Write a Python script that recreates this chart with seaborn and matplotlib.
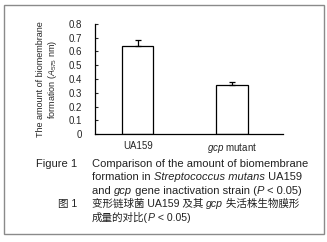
"""Biomembrane formation bar chart (UA159 vs gcp mutant)."""

import matplotlib
matplotlib.use("Agg")
import matplotlib.pyplot as plt
from matplotlib.patches import Rectangle
import pandas as pd
import seaborn as sns

# Data
strains = ["UA159", "gcp mutant"]
amount = [0.64, 0.36]
amount_err = [0.04, 0.02]
yticks = [0, 0.1, 0.2, 0.3, 0.4, 0.5, 0.6, 0.7, 0.8]
ytick_labels = ["0", "0.1", "0.2", "0.3", "0.4", "0.5", "0.6", "0.7", "0.8"]

sns.set_style("white")
plt.rcParams["font.family"] = ["Liberation Sans", "Noto Sans CJK SC", "DejaVu Sans"]
plt.rcParams["mathtext.fontset"] = "custom"
plt.rcParams["mathtext.rm"] = "Liberation Sans"
plt.rcParams["mathtext.it"] = "Liberation Sans:italic"

df = pd.DataFrame({"strain": strains, "amount": amount})

fig = plt.figure(figsize=(3.27, 2.42), dpi=100)
ax = fig.add_axes([0.29, 0.446, 0.575, 0.455])

sns.barplot(data=df, x="strain", y="amount", color="white", edgecolor="black",
            linewidth=0.9, width=0.33, ax=ax)
ax.errorbar(range(len(strains)), amount, yerr=[[0] * len(amount), amount_err],
            fmt="none", ecolor="black", elinewidth=0.9, capsize=2.5, capthick=0.9)

ax.set_xlim(-0.457, 1.54)
ax.set_ylim(0, 0.8)
ax.set_yticks(yticks)
ax.set_yticklabels(ytick_labels)
ax.set_xticks(range(len(strains)))
ax.set_xticklabels(["UA159", r"$gcp$ mutant"])
ax.tick_params(axis="y", direction="in", length=2.5, width=0.8, labelsize=7, pad=9, left=True)
ax.tick_params(axis="x", length=0, labelsize=7, pad=5)
ax.set_xlabel("")
ax.set_ylabel("The amount of biomembrane\nformation ($\\mathit{A}_{\\mathrm{575}}$ nm)",
              fontsize=6.5, labelpad=7, linespacing=1.1)
for side in ["top", "right"]:
    ax.spines[side].set_visible(False)
for side in ["left", "bottom"]:
    ax.spines[side].set_linewidth(0.9)
    ax.spines[side].set_color("black")


def rich_line(x, y, parts, size=8):
    """Draw a line of text made of (text, italic) parts, chained left to right."""
    prev = None
    for text, italic in parts:
        style = "italic" if italic else "normal"
        if prev is None:
            prev = fig.text(x, y, text, fontsize=size, fontstyle=style,
                            ha="left", va="baseline", color="#222222")
        else:
            prev = ax.annotate(text, xy=(1, 0), xycoords=prev, fontsize=size,
                               fontstyle=style, ha="left", va="bottom",
                               color="#222222", annotation_clip=False)


# Caption
fig.text(77 / 327, 1 - 167 / 242, "Figure 1", fontsize=8, ha="right",
         va="baseline", color="#222222")
fig.text(77 / 327, 1 - 207 / 242, "图 1", fontsize=7.6, ha="right",
         va="baseline", color="#222222")
cx = 92 / 327
rich_line(cx, 1 - 167 / 242, [("Comparison of the amount of biomembrane", False)])
rich_line(cx, 1 - 180 / 242, [("formation in ", False), ("Streptococcus mutans", True),
                              (" UA159", False)])
rich_line(cx, 1 - 194 / 242, [("and ", False), ("gcp", True),
                              (" gene inactivation strain (", False), ("P", True),
                              (" < 0.05)", False)])
rich_line(cx, 1 - 207 / 242, [("变形链球菌 UA159 及其 ", False), ("gcp", True),
                              (" 失活株生物膜形", False)], size=7.6)
rich_line(cx, 1 - 221 / 242, [("成量的对比(", False), ("P", True), (" < 0.05)", False)],
          size=7.6)

# Grey frame around the figure
fig.add_artist(Rectangle((4 / 327, 1 - 234 / 242), 320 / 327, 229 / 242,
                         transform=fig.transFigure, fill=False,
                         edgecolor="#8a8a8a", linewidth=1.0))

fig.savefig("out.png", dpi=100)
